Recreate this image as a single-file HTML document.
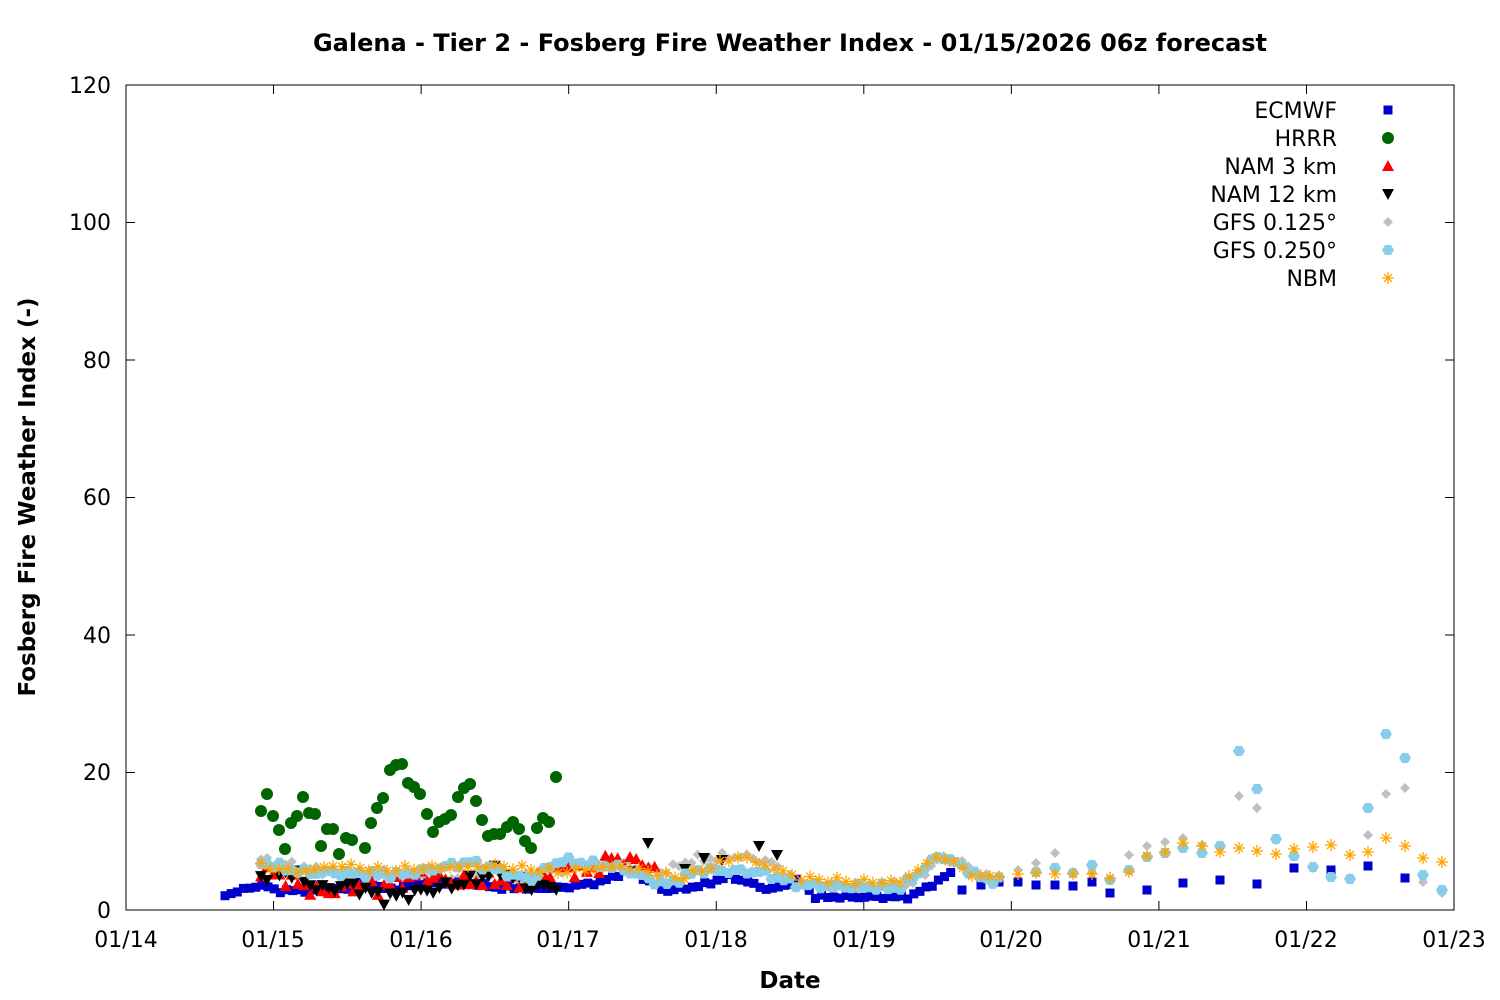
<!DOCTYPE html>
<html><head><meta charset="utf-8"><style>
body{margin:0;background:#fff}
svg{display:block}
text{font-family:"DejaVu Sans","Liberation Sans",sans-serif}
</style></head><body>
<svg id="s" width="1500" height="1000" xmlns="http://www.w3.org/2000/svg">
<rect width="1500" height="1000" fill="#fff"/>
<text x="790" y="51" font-size="24" font-weight="bold" text-anchor="middle">Galena - Tier 2 - Fosberg Fire Weather Index - 01/15/2026 06z forecast</text>
<rect x="126" y="85" width="1328" height="825" fill="none" stroke="#000" stroke-width="1"/>
<g font-size="22" text-anchor="end">
<text x="111" y="918">0</text><text x="111" y="780">20</text><text x="111" y="643">40</text>
<text x="111" y="505">60</text><text x="111" y="368">80</text><text x="111" y="230">100</text><text x="111" y="93">120</text>
</g>
<g font-size="22" text-anchor="middle">
<text x="126" y="947">01/14</text><text x="273" y="947">01/15</text><text x="421" y="947">01/16</text>
<text x="568" y="947">01/17</text><text x="716" y="947">01/18</text><text x="864" y="947">01/19</text>
<text x="1011" y="947">01/20</text><text x="1159" y="947">01/21</text><text x="1306" y="947">01/22</text>
<text x="1454" y="947">01/23</text>
</g>
<text x="790" y="988" font-size="23" font-weight="bold" text-anchor="middle">Date</text>
<text transform="translate(35,497) rotate(-90)" font-size="23" font-weight="bold" text-anchor="middle">Fosberg Fire Weather Index (-)</text>
<g id="ticks" stroke="#000"></g>
<g font-size="22" text-anchor="end">
<text x="1337" y="118">ECMWF</text><text x="1337" y="146">HRRR</text><text x="1337" y="174">NAM 3 km</text>
<text x="1337" y="202">NAM 12 km</text><text x="1337" y="230">GFS 0.125°</text><text x="1337" y="258">GFS 0.250°</text>
<text x="1337" y="286">NBM</text>
</g>
<g id="pts"></g>
</svg>
<script>
var NS="http://www.w3.org/2000/svg",P=document.getElementById('pts'),T=document.getElementById('ticks');
function el(t,a,par){var e=document.createElementNS(NS,t);for(var k in a)e.setAttribute(k,a[k]);(par||P).appendChild(e);return e;}
for(var i=0;i<=6;i++){var y=910-i*137.5;el('line',{x1:126,y1:y,x2:135,y2:y},T);el('line',{x1:1454,y1:y,x2:1445,y2:y},T);}
for(var i=0;i<=9;i++){var x=126+i*147.56;el('line',{x1:x,y1:910,x2:x,y2:901},T);el('line',{x1:x,y1:85,x2:x,y2:94},T);}
function mk(type,x,y){
 if(type==0)el('rect',{x:x-4.5,y:y-4.5,width:9,height:9,fill:'#0000cc'});
 else if(type==1)el('circle',{cx:x,cy:y,r:6,fill:'#006400'});
 else if(type==2)el('polygon',{points:(x-6)+','+(y+5)+' '+(x+6)+','+(y+5)+' '+x+','+(y-6),fill:'#ff0000'});
 else if(type==3)el('polygon',{points:(x-6)+','+(y-5)+' '+(x+6)+','+(y-5)+' '+x+','+(y+6),fill:'#000'});
 else if(type==4)el('polygon',{points:x+','+(y-5)+' '+(x+5)+','+y+' '+x+','+(y+5)+' '+(x-5)+','+y,fill:'#c0c0c0'});
 else if(type==5)el('polygon',{points:(x-3)+','+(y-5)+' '+(x+3)+','+(y-5)+' '+(x+6)+','+y+' '+(x+3)+','+(y+5)+' '+(x-3)+','+(y+5)+' '+(x-6)+','+y,fill:'#87ceeb'});
 else {var g=el('g',{stroke:'#ffa500','stroke-width':1.3});
  el('line',{x1:x-6,y1:y,x2:x+6,y2:y},g);el('line',{x1:x,y1:y-6,x2:x,y2:y+6},g);
  el('line',{x1:x-4,y1:y-4,x2:x+4,y2:y+4},g);el('line',{x1:x-4,y1:y+4,x2:x+4,y2:y-4},g);}
}
function interp(k,x){for(var i=0;i<k.length-1;i++){if(x>=k[i][0]&&x<=k[i+1][0]){var t=(x-k[i][0])/(k[i+1][0]-k[i][0]);return k[i][1]+t*(k[i+1][1]-k[i][1]);}}return k[k.length-1][1];}
function ser(type,k,step,amp,seed){var x0=k[0][0],x1=k[k.length-1][0];for(var x=x0;x<=x1;x+=step){mk(type,x,interp(k,x)+amp*Math.sin(x*0.37+seed)*Math.cos(x*0.11+seed*2));}}
function pts(type,a){a.forEach(function(p){mk(type,p[0],p[1]);});}
mk(0,1388,110);mk(1,1388,138);mk(2,1388,166);mk(3,1388,194);mk(4,1388,222);mk(5,1388,250);mk(6,1388,278);
ser(4,[[261,860],[330,872],[400,875],[460,880],[520,878],[560,870],[620,862],[665,872],[690,860],[740,856],[770,862],[800,885],[860,888],[910,885],[940,858],[960,862],[990,880],[1000,875]],6.15,5,1);
pts(4,[[1018,870],[1036,863],[1055,853],[1073,872],[1092,873],[1110,880],[1129,855],[1147,846],[1165,842],[1183,838],[1202,845],[1220,846],[1239,796],[1257,808],[1276,840],[1294,856],[1313,868],[1331,876],[1350,878],[1368,835],[1386,794],[1405,788],[1423,882],[1442,893]]);
ser(0,[[225,895],[260,885],[280,891],[350,889],[360,880],[390,890],[420,883],[470,883],[500,888],[560,888],[600,882],[630,870],[665,891],[700,886],[730,876],[770,890],[800,880],[815,897],[910,897],[940,880],[952,872]],6.15,2,2);
pts(0,[[962,890],[981,885],[999,882],[1018,882],[1036,885],[1055,885],[1073,886],[1092,882],[1110,893],[1147,890],[1183,883],[1220,880],[1257,884],[1294,868],[1331,870],[1368,866],[1405,878]]);
ser(2,[[261,870],[290,880],[320,893],[360,885],[380,888],[420,875],[460,882],[500,880],[520,885],[560,868],[590,872],[610,858],[640,862],[660,870]],6.15,8,3);
ser(3,[[261,876],[290,872],[320,890],[350,885],[385,898],[420,892],[470,882],[500,870],[530,888],[560,885]],6.15,7,4);
pts(3,[[648,843],[685,869],[704,858],[722,860],[759,846],[777,855]]);
ser(5,[[261,862],[300,872],[400,875],[470,862],[530,880],[560,860],[620,868],[665,885],[700,870],[760,872],[800,885],[900,888],[940,855],[960,865],[985,880],[1000,880]],6.15,4,5);
pts(5,[[1036,872],[1055,868],[1073,873],[1092,865],[1110,880],[1129,870],[1147,857],[1165,853],[1183,848],[1202,853],[1220,846],[1239,751],[1257,789],[1276,839],[1294,856],[1313,867],[1331,877],[1350,879],[1368,808],[1386,734],[1405,758],[1423,875],[1442,890]]);
ser(6,[[261,866],[300,872],[340,865],[380,870],[420,868],[500,866],[560,872],[620,866],[680,878],[740,856],[800,878],[860,882],[900,882],[940,855],[980,878],[1000,874]],9,3,6);
pts(6,[[1018,874],[1036,873],[1055,874],[1073,874],[1092,874],[1110,878],[1129,872],[1147,856],[1165,852],[1183,843],[1202,846],[1220,852],[1239,848],[1257,851],[1276,854],[1294,849],[1313,847],[1331,845],[1350,855],[1368,852],[1386,838],[1405,846],[1423,858],[1442,862]]);
pts(1,[[261,811],[267,794],[273,816],[279,830],[285,849],[291,823],[297,816],[303,797],[309,813],[315,814],[321,846],[327,829],[333,829],[339,854],[346,838],[352,840],[365,848],[371,823],[377,808],[383,798],[390,770],[396,765],[402,764],[408,783],[414,787],[420,794],[427,814],[433,832],[439,822],[445,819],[451,815],[458,797],[464,788],[470,784],[476,801],[482,820],[488,836],[494,834],[500,834],[507,827],[513,822],[519,829],[525,841],[531,848],[537,828],[543,818],[549,822],[556,777]]);
</script>
</body></html>
